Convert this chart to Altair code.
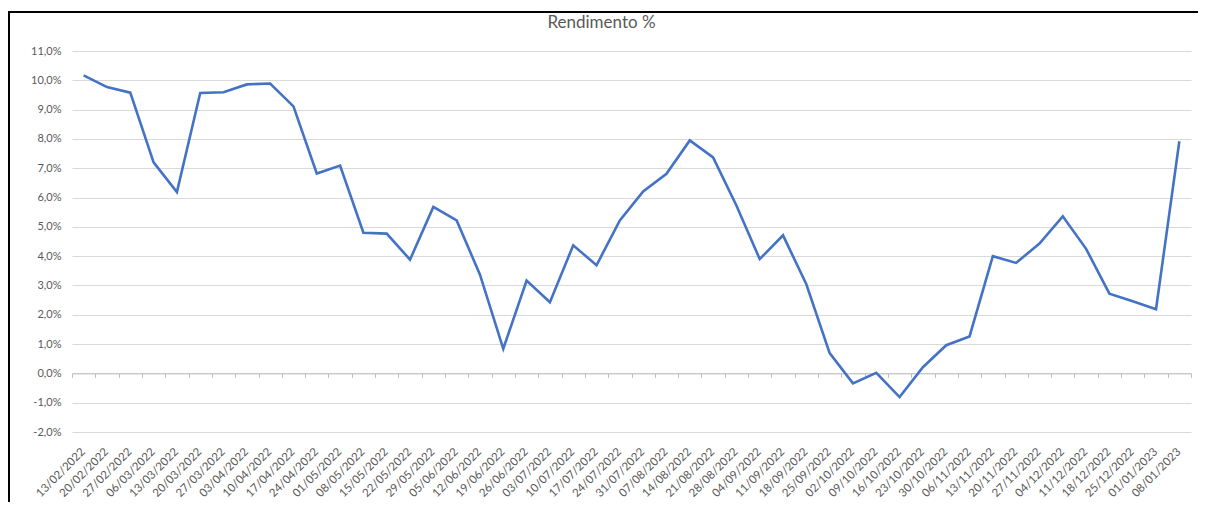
import altair as alt
import pandas as pd

datas = ["13/02/2022", "20/02/2022", "27/02/2022", "06/03/2022", "13/03/2022", "20/03/2022",
         "27/03/2022", "03/04/2022", "10/04/2022", "17/04/2022", "24/04/2022", "01/05/2022",
         "08/05/2022", "15/05/2022", "22/05/2022", "29/05/2022", "05/06/2022", "12/06/2022",
         "19/06/2022", "26/06/2022", "03/07/2022", "10/07/2022", "17/07/2022", "24/07/2022",
         "31/07/2022", "07/08/2022", "14/08/2022", "21/08/2022", "28/08/2022", "04/09/2022",
         "11/09/2022", "18/09/2022", "25/09/2022", "02/10/2022", "09/10/2022", "16/10/2022",
         "23/10/2022", "30/10/2022", "06/11/2022", "13/11/2022", "20/11/2022", "27/11/2022",
         "04/12/2022", "11/12/2022", "18/12/2022", "25/12/2022", "01/01/2023", "08/01/2023"]

rendimento = [10.17, 9.77, 9.58, 7.20, 6.19, 9.57, 9.59, 9.86, 9.89, 9.11,
              6.82, 7.09, 4.80, 4.77, 3.88, 5.68, 5.22, 3.37, 0.84, 3.17,
              2.43, 4.37, 3.69, 5.22, 6.21, 6.81, 7.95, 7.37, 5.73, 3.90,
              4.71, 3.04, 0.69, -0.34, 0.02, -0.81, 0.21, 0.96, 1.26, 4.00,
              3.77, 4.43, 5.36, 4.25, 2.72, 2.46, 2.19, 7.92]

y_ticks = [-2, -1, 0, 1, 2, 3, 4, 5, 6, 7, 8, 9, 10, 11]

df = pd.DataFrame({"data": datas, "valor": rendimento})

FONT = "Lato"
GRAY = "#595959"
W, H = 1119, 381

x_scale = alt.Scale(type="band", paddingInner=0, paddingOuter=0)
y_scale = alt.Scale(domain=[-2, 11], nice=False, zero=False)

label_expr = "replace(replace(format(datum.value, '.1f'), '.', ','), '\u2212', '-') + '%'"

y_axis = alt.Axis(title=None, values=y_ticks, labelExpr=label_expr, orient="left",
                  domain=False, ticks=False, grid=True,
                  gridColor="#d9d9d9", gridWidth=1,
                  labelFont=FONT, labelFontSize=11, labelColor=GRAY,
                  labelPadding=11)

zero_axis = alt.Chart(df).mark_line(strokeOpacity=0).encode(
    x=alt.X("data:O", sort=None, scale=x_scale, bandPosition=0.5,
            axis=alt.Axis(title=None, orient="bottom", labels=False, domain=True,
                          domainColor="#bfbfbf", domainWidth=1, ticks=True,
                          tickBand="extent", tickColor="#bfbfbf", tickSize=4,
                          grid=False, offset=-(2 / 13) * H)),
    y=alt.Y("valor:Q", scale=y_scale, axis=y_axis),
)

line = alt.Chart(df).mark_line(color="#4472C4", strokeWidth=2.6).encode(
    x=alt.X("data:O", sort=None, scale=x_scale, bandPosition=0.5,
            axis=alt.Axis(title=None, orient="bottom", labelAngle=-45, labelAlign="right",
                          labelBaseline="middle", ticks=False, domain=False,
                          grid=False, labelOverlap=False, labelPadding=18,
                          labelFont=FONT, labelFontSize=11.5, labelColor=GRAY)),
    y=alt.Y("valor:Q", scale=y_scale, axis=y_axis),
)

frame = alt.Chart(alt.Data(values=[{"k": 1}])).mark_rect(
    filled=False, stroke="black", strokeWidth=2
).encode(x=alt.value(-63), x2=alt.value(1180), y=alt.value(-39), y2=alt.value(500))

chart = alt.layer(frame, zero_axis, line).resolve_axis(x="independent").properties(
    width=W, height=H,
    background="white",
    title=alt.TitleParams("Rendimento %", font=FONT, fontSize=17, color=GRAY,
                          fontWeight="normal", dx=-30, offset=-21),
    autosize=alt.AutoSizeParams(type="none"),
    padding={"left": 64, "top": 43, "right": 7, "bottom": 70},
).configure_view(stroke=None)

chart.save("out.html", embed_options={"renderer": "svg", "actions": False})
